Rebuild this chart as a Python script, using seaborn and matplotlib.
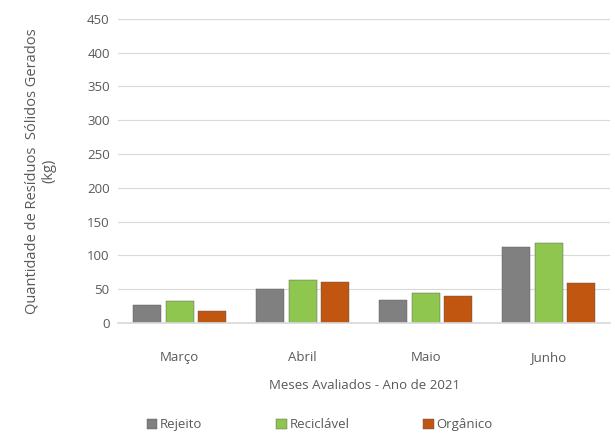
import pandas as pd
import matplotlib.pyplot as plt
import seaborn as sns

# Dados
meses = ['Março', 'Abril', 'Maio', 'Junho']
rejeito = [27, 50, 34, 112]
reciclavel = [32, 63, 44, 118]
organico = [17, 61, 40, 59]

tipos = ['Rejeito', 'Reciclável', 'Orgânico']
cores = ['#808080', '#8fc64f', '#c0560f']

df = pd.DataFrame({
    'mes': meses * 3,
    'tipo': [t for t in tipos for _ in meses],
    'valor': rejeito + reciclavel + organico,
})

sns.set_theme(style="white")
plt.rcParams['font.family'] = ['Open Sans', 'DejaVu Sans']
cinza = '#595959'

fig = plt.figure(figsize=(6.15, 4.4), dpi=100)
ax = fig.add_axes([0.192, 0.266, 0.8, 0.691])

sns.barplot(data=df, x='mes', y='valor', hue='tipo', order=meses, hue_order=tipos,
            palette=cores, saturation=1, width=0.8, gap=0.15, ax=ax,
            edgecolor='#555555', linewidth=0.3)

ax.set_ylim(0, 450)
ax.set_yticks(range(0, 451, 50))
ax.yaxis.grid(True, color='#d9d9d9', linewidth=0.8)
ax.set_axisbelow(True)
for s in ['top', 'right', 'left']:
    ax.spines[s].set_visible(False)
ax.spines['bottom'].set_color('#d9d9d9')
ax.tick_params(axis='both', colors=cinza, labelsize=9.5, length=0, pad=6)
ax.tick_params(axis='x', pad=20)

ax.set_xlabel('Meses Avaliados - Ano de 2021', color=cinza, fontsize=9.5, labelpad=11)
ax.set_ylabel('Quantidade de Resíduos  Sólidos Gerados\n(kg)', color=cinza, fontsize=10.5,
              labelpad=22)

ax.legend(loc='upper center', bbox_to_anchor=(0.41, -0.275), ncol=3, frameon=False,
          fontsize=9.5, labelcolor=cinza, handlelength=0.8, handleheight=0.8,
          handletextpad=0.2, columnspacing=5.6)

plt.savefig('out.png', dpi=100)
